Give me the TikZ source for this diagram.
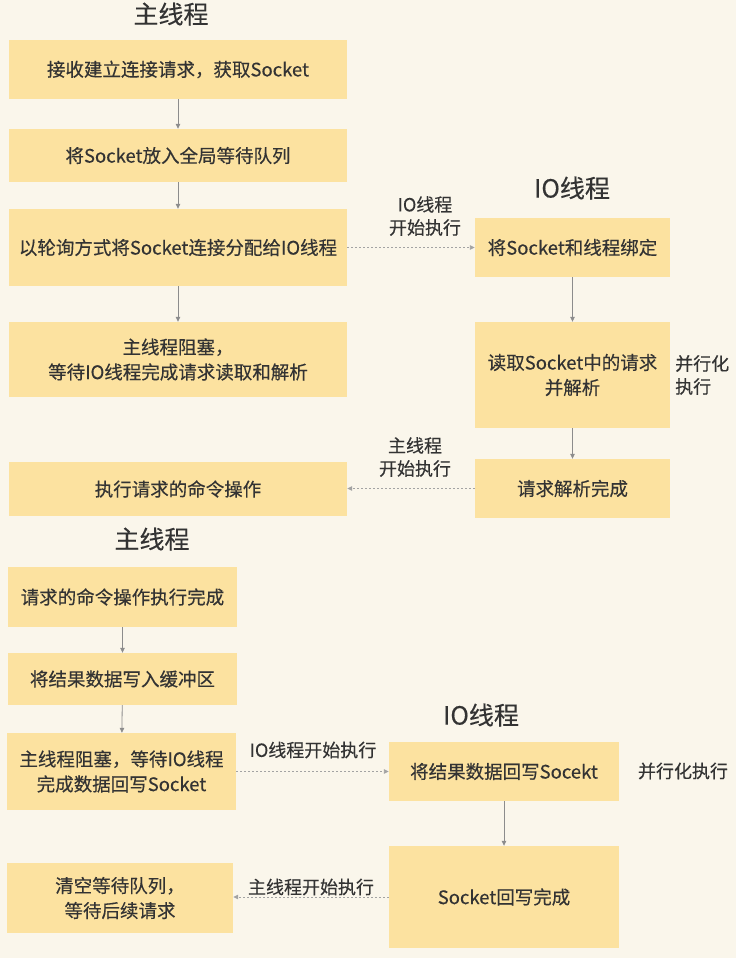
\documentclass[tikz,border=0pt]{standalone}
\usepackage{fontspec}
\setmainfont{Noto Sans CJK SC}
\newfontfamily\cjk[FakeBold=0.35]{Noto Sans CJK SC}
\usetikzlibrary{arrows.meta}
\definecolor{bgc}{HTML}{FAF6EB}
\definecolor{boxc}{HTML}{FCE2A0}
\definecolor{txtc}{HTML}{333333}
\definecolor{arrc}{HTML}{8C8C8C}
\tikzset{
  boxn/.style={fill=boxc, draw=none, text=txtc, align=center, inner sep=0pt,
    font=\cjk\fontsize{18.5}{25}\selectfont},
  titlen/.style={text=txtc, inner sep=0pt, font=\cjk\fontsize{25}{30}\selectfont},
  labn/.style={text=txtc, inner sep=0pt, align=center, font=\cjk\fontsize{18}{23}\selectfont},
  flow/.style={draw=arrc, line width=0.8pt, -{Triangle[length=5pt,width=4.5pt]}},
  dflow/.style={draw=arrc!80, line width=0.9pt, dash pattern=on 2pt off 2pt, -{Triangle[length=5pt,width=4.5pt]}}
}
\newcommand{\bx}[6]{\node[boxn, minimum width={#4-#2}, minimum height={#5-#3}] (#1) at ({(#2+#4)/2},{(#3+#5)/2}) {#6};}
\begin{document}
\begin{tikzpicture}[x=1pt,y=-1pt]
\fill[bgc] (0,0) rectangle (736,958);
\useasboundingbox (0,0) rectangle (736,958);
% titles
\node[titlen] (t1) at (171,14) {主线程};
\node[titlen] (t2) at (572,188) {IO线程};
\node[titlen] (t3) at (152,539) {主线程};
\node[titlen] (t4) at (481,715) {IO线程};
% top-left column
\bx{a1}{9}{40}{347}{99}{接收建立连接请求，获取Socket}
\bx{a2}{9}{129}{347}{182}{将Socket放入全局等待队列}
\bx{a3}{9}{209}{347}{286}{以轮询方式将Socket连接分配给IO线程}
\bx{a4}{9}{322}{347}{397}{主线程阻塞，\\等待IO线程完成请求读取和解析}
\bx{a5}{9}{462}{347}{516}{执行请求的命令操作}
% top-right column
\bx{r1}{475}{218}{670}{277}{将Socket和线程绑定}
\bx{r2}{475}{322}{670}{428}{读取Socket中的请求\\并解析}
\bx{r3}{475}{459}{670}{518}{请求解析完成}
% bottom-left column
\bx{b1}{8}{567}{237}{627}{请求的命令操作执行完成}
\bx{b2}{8}{653}{237}{705}{将结果数据写入缓冲区}
\bx{b3}{7}{733}{236}{810}{主线程阻塞，等待IO线程\\完成数据回写Socket}
\bx{b4}{7}{863}{233}{933}{清空等待队列，\\等待后续请求}
% bottom-right column
\bx{s1}{389}{742}{619}{801}{将结果数据回写Socekt}
\bx{s2}{389}{846}{619}{948}{Socket回写完成}
% labels
\node[labn] (l1) at (425,216) {IO线程\\开始执行};
\node[labn] (l2) at (415,457) {主线程\\开始执行};
\node[labn, anchor=west, align=left] (l3) at (675,375) {并行化\\执行};
\node[labn] (l4) at (313,750) {IO线程开始执行};
\node[labn] (l5) at (311,887) {主线程开始执行};
\node[labn] (l6) at (683,771) {并行化执行};
% connectors
\draw[flow] (a1) -- (a2);
\draw[flow] (a2) -- (a3);
\draw[flow] (a3) -- (a4);
\draw[flow] (r1) -- (r2);
\draw[flow] (r2) -- (r3);
\draw[flow] (b1) -- (b2);
\draw[flow] (b2) -- (b3);
\draw[flow] (s1) -- (s2);
\draw[dflow] (a3.east) -- (r1.west |- a3.east);
\draw[dflow] (r3.west) -- (a5.east |- r3.west);
\draw[dflow] (b3.east) -- (s1.west |- b3.east);
\draw[dflow] (s2.west) -- (b4.east |- s2.west);
\end{tikzpicture}
\end{document}
